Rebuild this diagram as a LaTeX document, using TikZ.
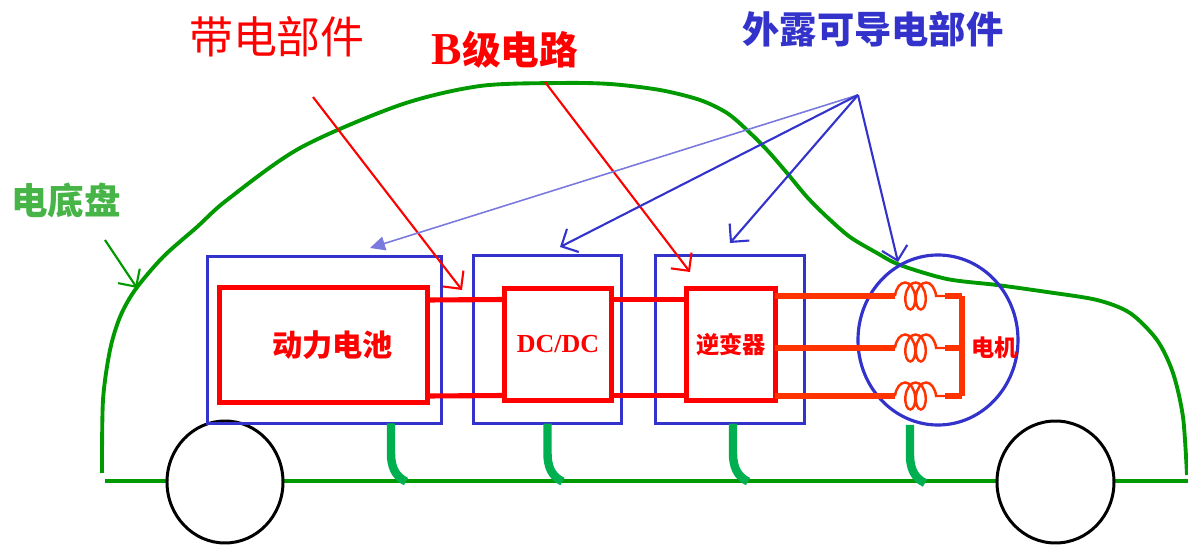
\documentclass[tikz,border=0pt]{standalone}
\usepackage{fontspec}
\setmainfont{Liberation Serif}
\newfontfamily\cjk{Noto Sans CJK SC}
\usetikzlibrary{arrows.meta,shapes.geometric,decorations.pathmorphing}

\definecolor{hvred}{RGB}{255,0,0}
\definecolor{hvorange}{RGB}{255,51,0}
\definecolor{caseblue}{RGB}{51,51,204}
\definecolor{bodygreen}{RGB}{0,153,0}
\definecolor{earthgreen}{RGB}{0,176,80}
\definecolor{labelgreen}{RGB}{70,180,70}

\begin{document}
\begin{tikzpicture}[
  bluebox/.style={draw=caseblue, line width=0.9pt, inner sep=0pt, outer sep=0pt},
  redbox/.style={draw=hvred, line width=1.45pt, inner sep=0pt, outer sep=0pt, text=hvred},
  redwire/.style={draw=hvred, line width=1.45pt},
  motorwire/.style={draw=hvorange, line width=1.45pt},
  earthline/.style={draw=earthgreen, line width=2.4pt},
  carline/.style={draw=bodygreen, line width=1.1pt},
  wheel/.style={draw=black, fill=white, line width=0.85pt},
  redarrow/.style={draw=hvred, line width=0.6pt, -{Straight Barb[length=1.3mm,width=2.6mm]}},
  bluearrow/.style={draw=caseblue, line width=0.6pt, -{Straight Barb[length=1.3mm,width=2.6mm]}},
]
\useasboundingbox (0,0) rectangle (11.88,5.45);

% Ground
\draw[carline] (1.05,0.64) -- (11.88,0.64);

% Car body
\draw[carline] plot[smooth] coordinates {
  (1.02,0.72) (1.03,1.45) (1.10,1.95) (1.20,2.28) (1.35,2.55) (1.63,2.88)
  (1.97,3.18) (2.27,3.45) (3.00,3.97) (4.00,4.40) (4.80,4.59) (5.60,4.62)
  (6.10,4.61) (6.60,4.55) (7.00,4.45) (7.27,4.32) (7.47,4.15) (7.67,3.95)
  (7.87,3.72) (8.07,3.48) (8.27,3.28) (8.50,3.08) (8.77,2.92) (9.00,2.80)
  (9.47,2.66) (9.97,2.60) (10.47,2.53) (10.97,2.45) (11.30,2.32) (11.57,2.05)
  (11.73,1.72) (11.83,1.28) (11.87,0.70)};

% Wheels
\draw[wheel] (2.25,0.63) ellipse (0.58 and 0.61);
\draw[wheel] (10.555,0.63) ellipse (0.585 and 0.61);

% Enclosures
\node[bluebox, minimum width=2.34cm, minimum height=1.67cm] (battcase) at (3.245,2.05) {};
\node[bluebox, minimum width=1.48cm, minimum height=1.68cm] (dccase) at (5.475,2.055) {};
\node[bluebox, minimum width=1.49cm, minimum height=1.68cm] (invcase) at (7.30,2.055) {};
\node[bluebox, ellipse, minimum width=1.6cm, minimum height=1.7cm] (motor) at (9.38,2.05) {};

% High voltage parts
\node[redbox, minimum width=2.08cm, minimum height=1.15cm,
  font=\cjk\bfseries\fontsize{8.6}{10}\selectfont] (batt) at (3.235,2.00) {\hspace*{1.8mm}动力电池};
\node[redbox, minimum width=1.07cm, minimum height=1.12cm,
  font=\bfseries\fontsize{7.4}{9}\selectfont] (dcdc) at (5.58,2.005) {DC/DC};
\node[redbox, minimum width=0.89cm, minimum height=1.12cm,
  font=\cjk\bfseries\fontsize{6.6}{8}\selectfont] (inv) at (7.31,2.005) {逆变器};

% DC bus
\foreach \dy in {4.5,-5.1} {
  \draw[redwire] ([yshift=\dy mm]batt.east) -- ([yshift=\dy mm]dcdc.west);
  \draw[redwire] ([yshift=\dy mm]dcdc.east) -- ([yshift=\dy mm]inv.west);
}

% Motor windings
\coordinate (ca) at (8.95,2.49);
\coordinate (cb) at (8.95,1.97);
\coordinate (cc) at (8.95,1.49);
\coordinate (star) at (9.62,2.0);
\foreach \c in {ca,cb,cc} {
  \draw[motorwire] (inv.east |- \c) -- (\c);
  \draw[draw=hvorange, line width=0.7pt, decorate,
    decoration={coil, aspect=0.55, segment length=1.05mm, amplitude=1.35mm}]
    (\c) -- ([xshift=5mm]\c);
  \draw[motorwire] ([xshift=5mm]\c) -- (star |- \c);
}
\draw[motorwire] (star |- ca) -- (star |- cc);
\node[text=hvred, font=\cjk\bfseries\fontsize{6.6}{8}\selectfont] (motorlabel) at (9.95,1.97) {电机};

% Earthing straps
\foreach \blk/\dx in {battcase/6.65,dccase/0,invcase/0.3,motor/-2.8}
  \draw[earthline] ([xshift=\dx mm]\blk.south) -- ++(0,-0.30)
    to[out=-90,in=155] ++(0.15,-0.28);

% Labels
\node[text=hvred, font=\cjk\fontsize{12.5}{14}\selectfont] (live) at (2.77,5.08) {带电部件};
\node[text=hvred, font=\bfseries\fontsize{11}{13}\selectfont] (classb) at (5.05,4.95)
  {\fontsize{13}{13}\selectfont B{\cjk\fontsize{11}{13}\selectfont 级电路}};
\node[text=caseblue, font=\cjk\bfseries\fontsize{10.6}{12}\selectfont] (exposed) at (8.73,5.16) {外露可导电部件};
\node[text=labelgreen, font=\cjk\bfseries\fontsize{10.4}{12}\selectfont] (chassis) at (0.66,3.45) {电底盘};

% Pointers
\coordinate (livetail) at (3.13,4.48);
\coordinate (livehead) at (4.62,2.55);
\coordinate (classbtail) at (5.45,4.63);
\coordinate (classbhead) at (6.90,2.73);
\coordinate (exposedtail) at (8.58,4.50);
\coordinate (batthead) at (3.70,2.97);
\coordinate (dchead) at (5.60,2.98);
\coordinate (invhead) at (7.30,3.02);
\coordinate (motorhead) at (8.98,2.83);
\coordinate (chassistail) at (1.05,3.05);
\coordinate (chassishead) at (1.37,2.57);

\draw[redarrow] (livetail) -- (livehead);
\draw[redarrow] (classbtail) -- (classbhead);
\draw[draw=caseblue!65, line width=0.45pt, -{Triangle[length=1.5mm,width=1.4mm]}]
  (exposedtail) -- (batthead);
\draw[bluearrow] (exposedtail) -- (dchead);
\draw[bluearrow] (exposedtail) -- (invhead);
\draw[bluearrow] (exposedtail) -- (motorhead);
\draw[draw=bodygreen, line width=0.6pt, -{Straight Barb[length=1.3mm,width=2.6mm]}]
  (chassistail) -- (chassishead);

\end{tikzpicture}
\end{document}
